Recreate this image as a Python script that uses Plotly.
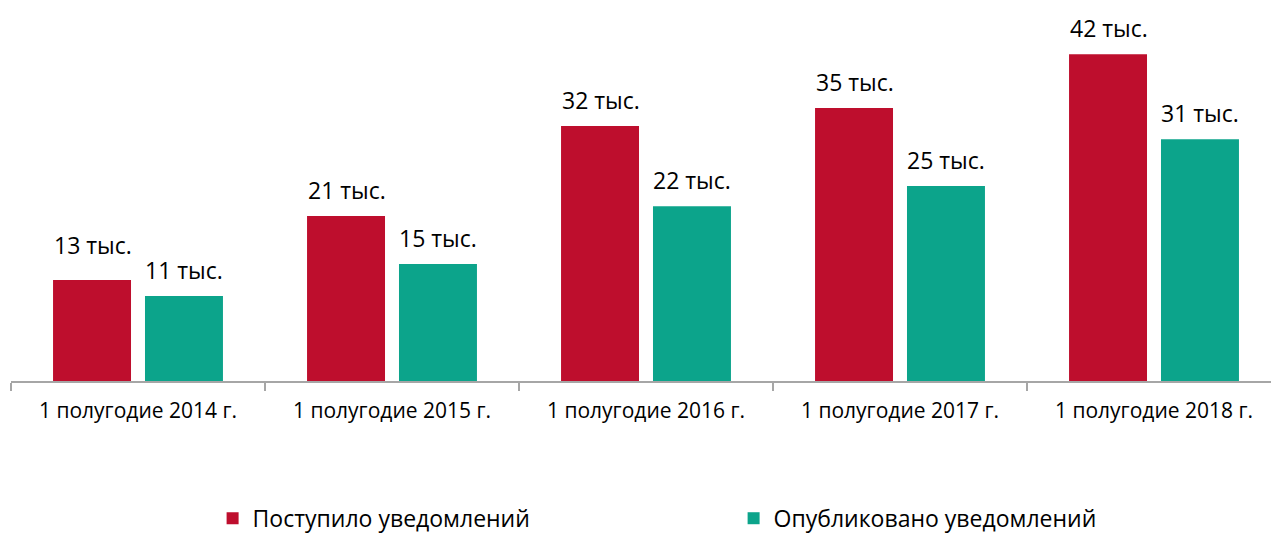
import plotly.graph_objects as go

categories = ["1 полугодие 2014 г.", "1 полугодие 2015 г.", "1 полугодие 2016 г.",
              "1 полугодие 2017 г.", "1 полугодие 2018 г."]
received = [12.95, 21.15, 32.7, 35.0, 41.9]
published = [10.9, 15.0, 22.4, 25.0, 31.0]
received_labels = ["13 тыс.", "21 тыс.", "32 тыс.", "35 тыс.", "42 тыс."]
published_labels = ["11 тыс.", "15 тыс.", "22 тыс.", "25 тыс.", "31 тыс."]
series_names = ["Поступило уведомлений", "Опубликовано уведомлений"]

RED = "#BE0E2D"
TEAL = "#0CA48B"
FONT = "Open Sans"

fig = go.Figure()
fig.add_trace(go.Bar(x=categories, y=received, name=series_names[0],
                     marker=dict(color=RED, line=dict(width=0))))
fig.add_trace(go.Bar(x=categories, y=published, name=series_names[1],
                     marker=dict(color=TEAL, line=dict(width=0))))

annotations = []
for i, c in enumerate(categories):
    annotations.append(dict(x=c, y=received[i], text=received_labels[i], xref="x", yref="y",
                            xshift=-45.5, yshift=26 if i else 35, showarrow=False,
                            yanchor="middle", font=dict(size=23, color="#000", family=FONT)))
    annotations.append(dict(x=c, y=published[i], text=published_labels[i], xref="x", yref="y",
                            xshift=45.5, yshift=26, showarrow=False,
                            yanchor="middle", font=dict(size=23, color="#000", family=FONT)))

fig.update_layout(
    width=1271, height=536,
    margin=dict(l=11, r=0, t=10, b=155, autoexpand=False),
    paper_bgcolor="white", plot_bgcolor="white",
    barmode="group", bargap=0.276, bargroupgap=0.152,
    font=dict(family=FONT, size=22, color="#000"),
    annotations=annotations,
    showlegend=True,
    legend=dict(orientation="h", x=0.16, xanchor="left", y=-0.37, yanchor="middle",
                font=dict(size=23, color="#000", family=FONT), entrywidth=476,
                traceorder="normal"),
    xaxis=dict(type="category", range=[-0.5, -0.5 + 1260 / 254],
               showline=True, linecolor="#A6A6A6", linewidth=1.5,
               ticks="outside", ticklen=8, tickcolor="#A6A6A6", tickwidth=1.5,
               tickson="boundaries", ticklabelstandoff=10,
               tickfont=dict(size=21, color="#000", family=FONT),
               showgrid=False, zeroline=False, fixedrange=True),
    yaxis=dict(range=[0, 371 / 7.8], visible=False, showgrid=False, zeroline=False,
               fixedrange=True),
)

fig.write_html("out.html", config={"displayModeBar": False},
               post_script="document.body.style.margin='0';document.body.style.overflow='hidden';")
